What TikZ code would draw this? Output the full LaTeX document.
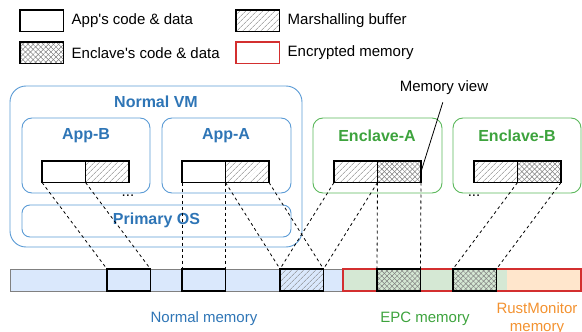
\documentclass[tikz,border=0pt]{standalone}
\usepackage{fontspec}
\setmainfont{Liberation Sans}
\usetikzlibrary{positioning,patterns.meta}
\definecolor{vmblue}{HTML}{2E75B6}
\definecolor{vmline}{HTML}{5B9BD5}
\definecolor{encgreen}{HTML}{3DA33D}
\definecolor{encline}{HTML}{5CB85C}
\definecolor{monorange}{HTML}{F39230}
\definecolor{encred}{HTML}{D32F2F}
\definecolor{normfill}{HTML}{DAE8FC}
\definecolor{epcfill}{HTML}{D5E8D4}
\definecolor{monfill}{HTML}{FFE6CC}
\tikzset{
    cell/.style={draw=black, line width=1.6pt, minimum width=43.5pt, minimum height=21.5pt,
        inner sep=0pt, outer sep=0pt, anchor=north west},
    appcell/.style={cell, fill=#1}, appcell/.default=white,
    bufcell/.style={cell, preaction={fill=#1},
        preaction={pattern={Lines[angle=45,distance=4pt,line width=.5pt]}, pattern color=gray}},
    bufcell/.default=white,
    enccell/.style={cell, preaction={fill=#1},
        preaction={pattern={Lines[angle=45,distance=3.6pt,line width=.5pt]}, pattern color=gray},
        preaction={pattern={Lines[angle=-45,distance=3.6pt,line width=.5pt]}, pattern color=gray}},
    enccell/.default=white,
    ctr/.style={draw=#1, line width=.9pt, rounded corners=10pt, inner sep=0pt, outer sep=0pt,
        anchor=north west},
    title/.style={text=#1, font=\bfseries\fontsize{16}{19}\selectfont, inner sep=0pt},
    lbl/.style={inner sep=0pt, anchor=west},
    region/.style={minimum height=22pt, inner sep=0pt, outer sep=0pt, anchor=north west},
    link/.style={dashed, line width=.8pt},
}
\begin{document}
\begin{tikzpicture}[x=1pt,y=-1pt,font=\fontsize{15}{18}\selectfont]
      \useasboundingbox (0,0) rectangle (582,332);
      % legend
      \node[appcell] (lgapp) at (20,10) {};
      \node[lbl, right=8pt of lgapp] (lgappt) {App\textquotesingle s code \& data};
      \node[enccell] (lgenc) at (20,42) {};
      \node[lbl, right=8pt of lgenc] (lgenct) {Enclave\textquotesingle s code \& data};
      \node[bufcell] (lgbuf) at (236,10) {};
      \node[lbl, right=8pt of lgbuf] (lgbuft) {Marshalling buffer};
      \node[cell, draw=encred, line width=1.5pt] (lgred) at (236,42) {};
      \node[lbl, right=8pt of lgred] (lgredt) {Encrypted memory};

      % normal VM
      \node[ctr=vmline, rounded corners=16pt, minimum width=292pt, minimum height=161pt] (vm) at (10,86) {};
      \node[title=vmblue] (vmt) at (156,102) {Normal VM};
      \node[ctr=vmline, minimum width=128pt, minimum height=75pt] (appB) at (22,118) {};
      \node[title=vmblue] (appBt) at (86,136) {App-B};
      \node[ctr=vmline, minimum width=129pt, minimum height=75pt] (appA) at (162,118) {};
      \node[title=vmblue] (appAt) at (226,136) {App-A};
      \node[ctr=vmline, rounded corners=8pt, minimum width=269pt, minimum height=32pt] (os) at (22,205) {};
      \node[title=vmblue] (ost) at (156.5,220) {Primary OS};

      % enclaves
      \node[ctr=encline, minimum width=129pt, minimum height=75pt] (encA) at (313,118) {};
      \node[title=encgreen] (encAt) at (377,136) {Enclave-A};
      \node[ctr=encline, minimum width=128pt, minimum height=75pt] (encB) at (453,118) {};
      \node[title=encgreen] (encBt) at (517,136) {Enclave-B};

      % buffers
      \node[appcell] (bwB) at (42,161) {};
      \node[bufcell, right=0pt of bwB] (bhB) {};
      \node[appcell] (bwA) at (182,161) {};
      \node[bufcell, right=0pt of bwA] (bhA) {};
      \node[bufcell] (bhEA) at (334,161) {};
      \node[enccell, right=0pt of bhEA] (bcEA) {};
      \node[bufcell] (bhEB) at (474,161) {};
      \node[enccell, right=0pt of bhEB] (bcEB) {};
      \node (dotsA) at (128,196) {...};
      \node (dotsE) at (474,196) {...};

      \node (mv) at (444,88) {Memory view};
      \draw[line width=.8pt, shorten <=4pt] (mv.south) -- (bcEA.east);

      % memory
      \node[region, draw=gray, line width=.8pt, fill=normfill, minimum width=333pt] (nmem) at (10,269) {};
      \node[region, fill=epcfill, minimum width=164pt] (epc) at (343,269) {};
      \node[region, fill=monfill, minimum width=74pt] (mon) at (507,269) {};
      \draw[encred, line width=1.5pt] (epc.north west) rectangle (mon.south east);
      \node[appcell=normfill, minimum height=22pt] (mB) at (107,269) {};
      \node[appcell=normfill, minimum height=22pt] (mA) at (182,269) {};
      \node[bufcell=normfill, minimum height=22pt] (mbuf) at (280,269) {};
      \node[enccell=epcfill, minimum height=22pt] (mEA) at (377,269) {};
      \node[enccell=epcfill, minimum height=22pt] (mEB) at (453,269) {};

      \node[text=vmblue] (nmemt) at (204,319) {Normal memory};
      \node[text=encgreen] (epct) at (425,319) {EPC memory};
      \node[text=monorange, align=center] (mont) at (537,319) {RustMonitor\\memory};

      \foreach \a/\b in {bwB/mB, bwA/mA, bhA/mbuf, bhEA/mbuf, bcEA/mEA, bcEB/mEB}
      \draw[link] (\a.south west) -- (\b.north west) (\a.south east) -- (\b.north east);
\end{tikzpicture}
\end{document}
